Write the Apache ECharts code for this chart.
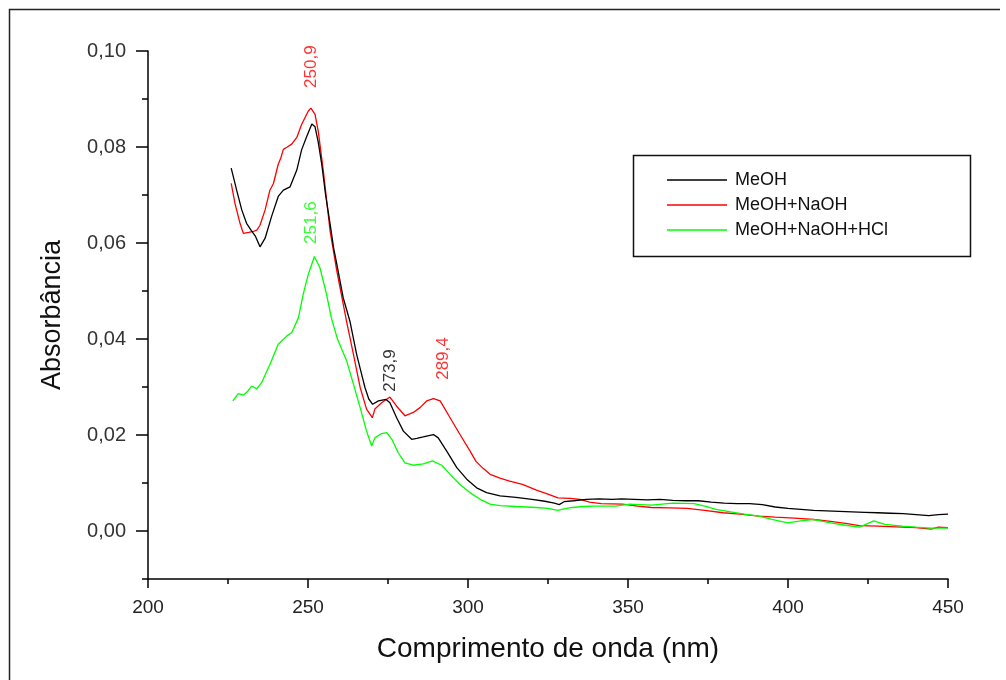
<!DOCTYPE html>
<html>
<head>
<meta charset="utf-8">
<script src="https://cdn.jsdelivr.net/npm/echarts@6/dist/echarts.min.js"></script>
<style>
html,body{margin:0;padding:0;background:#fff;}
#chart{width:1006px;height:680px;}
</style>
</head>
<body>
<div id="chart"></div>
<script>
// ---- data ----
const seriesNames = ['MeOH', 'MeOH+NaOH', 'MeOH+NaOH+HCl'];

const wlMeOH = [226,227.7,229.3,230.8,232.3,233.5,235,236.6,238.6,240.7,242.3,244.4,246.5,248,249.6,251.2,252.2,253.2,254.3,255.5,256.9,258,259,261,263.1,265.2,267,267.8,269,270.2,272,274.4,275.6,277.7,279.8,282.4,284,286,289.2,290.7,293.3,296.5,299.6,302.7,305.8,310,315,320,324,327,328.5,330,333,337,341,345,348,352,356,360,364,368,372,376,380,384,388,392,396,400,404,408,412,416,420,424,428,432,436,440,444,447,450];
const absMeOH = [0.0756,0.0710,0.0669,0.0641,0.0626,0.0615,0.0592,0.0610,0.0655,0.0697,0.0710,0.0717,0.0752,0.0794,0.0822,0.0848,0.0842,0.0810,0.0764,0.0700,0.0640,0.0590,0.0556,0.0486,0.0437,0.0368,0.0320,0.0299,0.0275,0.0264,0.0271,0.0274,0.0267,0.0236,0.0208,0.0191,0.0193,0.0196,0.0201,0.0194,0.0167,0.0132,0.0108,0.0090,0.0080,0.0073,0.0070,0.0066,0.0062,0.0058,0.0055,0.0061,0.0063,0.0066,0.0067,0.0066,0.0067,0.0066,0.0065,0.0066,0.0064,0.0063,0.0063,0.0060,0.0058,0.0057,0.0057,0.0055,0.0050,0.0047,0.0045,0.0043,0.0042,0.0041,0.0040,0.0039,0.0038,0.0037,0.0036,0.0034,0.0032,0.0034,0.0035];

const wlNaOH = [226,227.2,228.8,229.8,231.5,232.9,234,235,236.6,238.1,239.2,240.7,241.5,242.3,243.5,244.9,246.5,248,250.1,250.9,252.2,253.2,254.8,256.9,259,262.1,264.2,266.3,268.3,270.1,270.9,273,275.6,277.7,280.3,282.9,285,287.1,289.2,291.3,294.4,297.5,300.6,302.5,304.8,306.9,310,313,317,321.4,325,328.1,332,335,338,341.6,348.3,353,357.3,363,368.5,374,379.7,385,390.9,396,402,408,413.3,418,422.3,428,435.8,440,444.7,447,450];
const absNaOH = [0.0724,0.0682,0.0640,0.0620,0.0622,0.0624,0.0627,0.0637,0.0669,0.0710,0.0724,0.0764,0.0777,0.0795,0.0800,0.0806,0.0820,0.0847,0.0875,0.0881,0.0868,0.0833,0.0750,0.0625,0.0542,0.0435,0.0368,0.0299,0.0254,0.0236,0.0254,0.0267,0.0279,0.0260,0.0240,0.0247,0.0257,0.0271,0.0276,0.0271,0.0236,0.0201,0.0167,0.0145,0.0130,0.0118,0.0110,0.0104,0.0097,0.0085,0.0077,0.0069,0.0068,0.0066,0.0060,0.0057,0.0056,0.0052,0.0049,0.0048,0.0047,0.0043,0.0038,0.0035,0.0031,0.0029,0.0027,0.0024,0.0020,0.0016,0.0011,0.0010,0.0008,0.0007,0.0004,0.0008,0.0007];

const wlHCl = [226.5,228.2,229.8,231,232.4,234,235.5,236.8,238.1,240.7,243.3,244.9,247,248.5,250.1,252,253.7,255.8,257.3,259.2,262.1,264.2,266.3,268.3,269.9,270.9,273,274.6,276.2,278.2,280.3,282.9,286,288.9,291.8,294.4,297.5,300.6,303.8,306.9,310,315,321.4,325,328.1,330,332.6,336,339.3,346.1,350.5,357.3,364,370.7,374,377.5,382,386.4,390.9,395,399.9,404,407.7,413.3,418,422.3,426.8,430.2,435.8,440,444.7,450];
const absHCl = [0.0271,0.0286,0.0283,0.0290,0.0302,0.0296,0.0309,0.0328,0.0347,0.0389,0.0406,0.0413,0.0444,0.0493,0.0535,0.0572,0.0549,0.0493,0.0444,0.0400,0.0354,0.0306,0.0257,0.0208,0.0177,0.0194,0.0203,0.0205,0.0191,0.0163,0.0142,0.0137,0.0140,0.0146,0.0137,0.0118,0.0097,0.0080,0.0066,0.0056,0.0053,0.0051,0.0049,0.0047,0.0043,0.0046,0.0049,0.0051,0.0052,0.0052,0.0056,0.0054,0.0058,0.0057,0.0052,0.0045,0.0040,0.0035,0.0031,0.0024,0.0017,0.0021,0.0024,0.0017,0.0012,0.0008,0.0021,0.0014,0.0010,0.0008,0.0006,0.0006];

// peak annotations (data coordinates of label start)
const peakText = ['250,9', '251,6', '273,9', '289,4'];
const peakX = [250.9, 250.9, 275.6, 292.2];
const peakY = [0.0923, 0.0598, 0.0290, 0.0315];
const peakSeries = [1, 2, 0, 1];

const xTicks = [200, 250, 300, 350, 400, 450];
const yMajor = [0, 0.02, 0.04, 0.06, 0.08, 0.10];
const yMinor = [-0.01, 0.01, 0.03, 0.05, 0.07, 0.09];

// ---- chart ----
const colors = ['#000000', '#ff0000', '#00ff00'];
const zip = (a, b) => a.map((v, i) => [v, b[i]]);
const lineData = [zip(wlMeOH, absMeOH), zip(wlNaOH, absNaOH), zip(wlHCl, absHCl)];
const FONT = 'Liberation Sans, Arial, sans-serif';

const chart = echarts.init(document.getElementById('chart'), null, {renderer: 'canvas'});

const lineSeries = [1, 0, 2].map(i => ({
  name: seriesNames[i],
  type: 'line',
  data: lineData[i],
  symbol: 'none',
  smooth: false,
  color: colors[i],
  lineStyle: {width: 1.3, color: colors[i]},
  z: i === 0 ? 4 : 3,
  animation: false
}));

const labelSeries = {
  type: 'scatter',
  symbolSize: 0,
  silent: true,
  data: peakText.map((t, i) => ({
    value: [peakX[i], peakY[i]],
    label: {color: colors[peakSeries[i]]},
    name: t
  })),
  label: {
    show: true,
    position: 'inside',
    rotate: 90,
    align: 'left',
    verticalAlign: 'middle',
    fontFamily: FONT,
    fontSize: 17,
    formatter: p => p.name
  },
  animation: false,
  z: 5
};

const fmt = v => v.toFixed(2).replace('.', ',');

const option = {
  backgroundColor: '#ffffff',
  animation: false,
  grid: {left: 148, right: 58, top: 51, bottom: 101, containLabel: false},
  legend: {
    data: seriesNames,
    orient: 'vertical',
    left: 667,
    top: 171,
    padding: 0,
    icon: 'rect',
    itemWidth: 60,
    itemHeight: 1.6,
    itemGap: 7,
    textStyle: {fontFamily: FONT, fontSize: 18, color: '#111', lineHeight: 18, padding: [0, 0, 0, 3]},
    selectedMode: false
  },
  xAxis: {
    type: 'value',
    min: 200, max: 450, interval: 50,
    name: 'Comprimento de onda (nm)',
    nameLocation: 'middle',
    nameGap: 56,
    nameTextStyle: {fontFamily: FONT, fontSize: 28, color: '#111'},
    axisLine: {show: true, onZero: false, lineStyle: {color: '#000', width: 1.5}},
    axisTick: {show: true, inside: false, length: 9, lineStyle: {color: '#000', width: 1.5}},
    minorTick: {show: true, splitNumber: 2, length: 5, lineStyle: {color: '#000', width: 1.5}},
    axisLabel: {margin: 19, fontFamily: FONT, fontSize: 19, color: '#222',
      formatter: v => String(v)},
    splitLine: {show: false},
    minorSplitLine: {show: false}
  },
  yAxis: [{
    type: 'value',
    min: -0.01, max: 0.10,
    position: 'left',
    name: 'Absorbância',
    nameLocation: 'middle',
    nameGap: 82,
    nameTextStyle: {fontFamily: FONT, fontSize: 27, color: '#111'},
    axisLine: {show: true, onZero: false, lineStyle: {color: '#000', width: 1.5}},
    axisTick: {show: true, inside: false, length: 12, customValues: yMajor, lineStyle: {color: '#000', width: 1.5}},
    axisLabel: {show: true, margin: 22, customValues: yMajor, fontFamily: FONT, fontSize: 20, color: '#333',
      formatter: v => fmt(v)},
    splitLine: {show: false}
  }, {
    type: 'value',
    min: -0.01, max: 0.10,
    position: 'left',
    offset: 0,
    axisLine: {show: false},
    axisTick: {show: true, inside: false, length: 6, customValues: yMinor, lineStyle: {color: '#000', width: 1.5}},
    axisLabel: {show: false},
    splitLine: {show: false}
  }],
  graphic: [
    {type: 'polyline', silent: true, shape: {points: [[9.5, 680], [9.5, 9.5], [1000, 9.5]]},
      style: {stroke: '#222', lineWidth: 1.5, fill: null}},
    {type: 'rect', silent: true, shape: {x: 633.5, y: 155.5, width: 337, height: 101},
      style: {stroke: '#111', lineWidth: 1.5, fill: null}}
  ],
  series: lineSeries.concat([labelSeries])
};
chart.setOption(option);
</script>
</body>
</html>
